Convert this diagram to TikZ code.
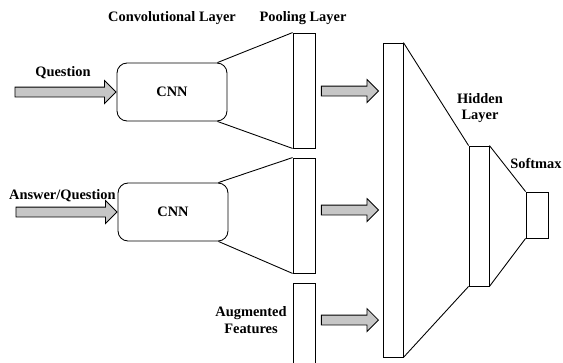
\documentclass[tikz,border=0pt]{standalone}
\usepackage{fontspec}
\setmainfont{Liberation Serif}
\usepackage{tikz}
\usetikzlibrary{positioning,shapes.arrows}

\begin{document}
\begin{tikzpicture}[
    x=0.02cm, y=-0.02cm,
    line width=0.5pt,
    cnnbox/.style={rectangle, draw, rounded corners=0.2cm, minimum width=2.2cm, minimum height=1.16cm, font=\bfseries\fontsize{8.2}{9.6}\selectfont},
    poolbox/.style={rectangle, draw, minimum width=0.44cm, minimum height=2.3cm, inner sep=0pt},
    layerbox/.style={rectangle, draw, minimum width=0.4cm, inner sep=0pt},
    fatarrow/.style={single arrow, draw, fill=gray!45, line width=0.5pt, inner xsep=0pt, inner ysep=0.09cm, single arrow head extend=0.13cm, single arrow tip angle=90, minimum width=0pt},
    lbl/.style={font=\bfseries\fontsize{8.2}{9.6}\selectfont, align=center, inner sep=0pt},
]
\useasboundingbox (0,0) rectangle (563,362);
\clip (0,0) rectangle (563,362);

% Column titles
\node[lbl] (convtitle) at (172,18) {Convolutional Layer};
\node[lbl] (pooltitle) at (303,18) {Pooling Layer};

% Convolution boxes
\node[cnnbox] (cnn1) at (172,92) {CNN};
\node[cnnbox] (cnn2) at (173,212) {CNN};

% Inputs
\node[fatarrow, minimum height=2.02cm, left=0pt of cnn1] (qarrow) {};
\node[fatarrow, minimum height=2.02cm, left=0pt of cnn2] (aarrow) {};
\node[lbl] (qlabel) at (63,73) {Question};
\node[lbl, anchor=east] (alabel) at (116,196) {Answer/Question};

% Pooling layer
\node[poolbox] (pool1) at (304,90.5) {};
\node[poolbox] (pool2) at (304,215.5) {};
\node[poolbox, minimum height=2.34cm] (pool3) at (304,341.5) {};
\node[lbl] (auglabel) at (251,320) {Augmented\\Features};

\draw ([xshift=-0.2cm]cnn1.north east) -- (pool1.north west);
\draw ([xshift=-0.2cm]cnn1.south east) -- (pool1.south west);
\draw ([xshift=-0.2cm]cnn2.north east) -- (pool2.north west);
\draw ([xshift=-0.2cm]cnn2.south east) -- (pool2.south west);

% Joined vector, hidden layer, softmax
\node[layerbox, minimum height=6.28cm] (concat) at (393,200) {};
\node[layerbox, minimum height=2.8cm] (hidden) at (479,216) {};
\node[layerbox, minimum width=0.44cm, minimum height=0.92cm] (softmax) at (537,215) {};
\node[lbl] (hlabel) at (480,108) {Hidden\\Layer};
\node[lbl] (slabel) at (536,163) {Softmax};

\node[fatarrow, minimum height=1.14cm, anchor=east] (arr1) at (379,91) {};
\node[fatarrow, minimum height=1.14cm, anchor=east] (arr2) at (379,210) {};
\node[fatarrow, minimum height=1.14cm, anchor=east] (arr3) at (379,320) {};

\draw (concat.north east) -- (hidden.north west);
\draw (concat.south east) -- (hidden.south west);
\draw (hidden.north east) -- (softmax.north west);
\draw (hidden.south east) -- (softmax.south west);

\end{tikzpicture}
\end{document}
